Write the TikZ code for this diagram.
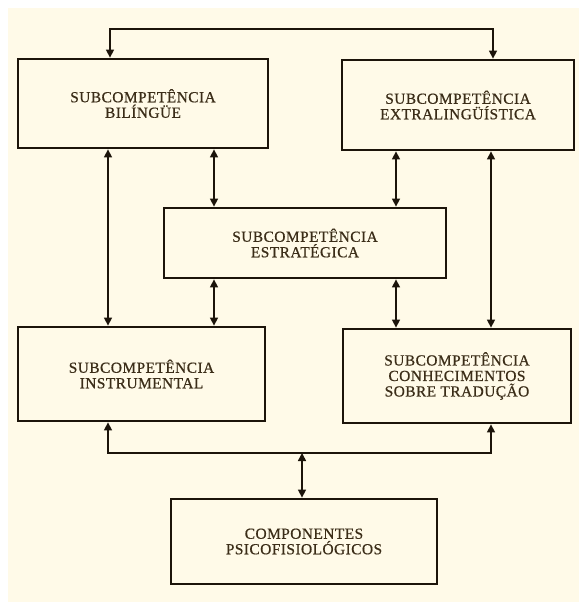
\documentclass[tikz,border=0pt]{standalone}
\usepackage{fontspec}
\setmainfont{Liberation Serif}[LetterSpace=3, FakeBold=0.6]
\usetikzlibrary{arrows.meta}
\definecolor{cream}{HTML}{FFFAE8}
\definecolor{ink}{HTML}{3B2D18}
\definecolor{edge}{HTML}{1C140A}
\tikzset{
  box/.style={draw=edge, line width=2.8pt, fill=cream, rectangle, align=center,
    text=ink, font=\fontsize{15.4}{15.5}\selectfont, inner sep=0pt},
  link/.style={draw=edge, line width=1.5pt, {Triangle[length=8pt,width=8pt]}-{Triangle[length=8pt,width=8pt]}}
}
\begin{document}
\begin{tikzpicture}[x=1pt,y=-1pt]
\useasboundingbox (0,0) rectangle (579,602);
\fill[white] (0,0) rectangle (579,602);
\fill[cream] (8,8) rectangle (579,602);
\node[box, minimum width=250pt, minimum height=89pt] (bil) at (143,103.5) {SUBCOMPETÊNCIA\\BILÍNGÜE};
\node[box, minimum width=232pt, minimum height=90pt] (ext) at (458,105) {SUBCOMPETÊNCIA\\EXTRALINGÜÍSTICA};
\node[box, minimum width=282pt, minimum height=70pt] (est) at (305,243) {SUBCOMPETÊNCIA\\ESTRATÉGICA};
\node[box, minimum width=247pt, minimum height=94pt] (ins) at (141.5,374) {SUBCOMPETÊNCIA\\INSTRUMENTAL};
\node[box, minimum width=228pt, minimum height=94pt] (con) at (457,376) {SUBCOMPETÊNCIA\\CONHECIMENTOS\\SOBRE TRADUÇÃO};
\node[box, minimum width=266pt, minimum height=85pt] (comp) at (304,541.5) {COMPONENTES\\PSICOFISIOLÓGICOS};
\coordinate (top) at (0,29);
\coordinate (br) at (0,453);
\coordinate (xa) at (110,0);
\coordinate (xb) at (493,0);
\coordinate (xl) at (108,0);
\coordinate (xr) at (491,0);
\coordinate (xm1) at (214,0);
\coordinate (xm2) at (396,0);
\coordinate (xc) at (302,0);
\draw[link] (bil.north -| xa) -- (xa |- top) -- (xb |- top) -- (ext.north -| xb);
\draw[link] (bil.south -| xl) -- (ins.north -| xl);
\draw[link] (ext.south -| xr) -- (con.north -| xr);
\draw[link] (bil.south -| xm1) -- (est.north -| xm1);
\draw[link] (ext.south -| xm2) -- (est.north -| xm2);
\draw[link] (est.south -| xm1) -- (ins.north -| xm1);
\draw[link] (est.south -| xm2) -- (con.north -| xm2);
\draw[link] (ins.south -| xl) -- (xl |- br) -- (xr |- br) -- (con.south -| xr);
\draw[link] (comp.north -| xc) -- (xc |- br);
\end{tikzpicture}
\end{document}
